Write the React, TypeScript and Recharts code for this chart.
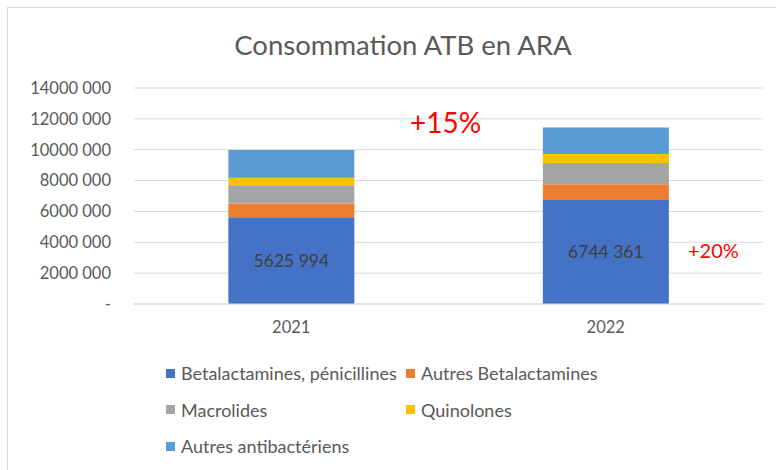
import { BarChart, Bar, XAxis, YAxis, CartesianGrid, LabelList } from 'recharts';

const years = ['2021', '2022'];
const penicillines = [5625994, 6744361];
const autresBeta = [880000, 1010000];
const macrolides = [1190000, 1390000];
const quinolones = [490000, 570000];
const autresAntibact = [1790000, 1720000];
const yTicks = [0, 2000000, 4000000, 6000000, 8000000, 10000000, 12000000, 14000000];

const SERIES = [
  { key: 'penicillines', name: 'Betalactamines, pénicillines', color: '#4472C4' },
  { key: 'autresBeta', name: 'Autres Betalactamines', color: '#ED7D31' },
  { key: 'macrolides', name: 'Macrolides', color: '#A5A5A5' },
  { key: 'quinolones', name: 'Quinolones', color: '#FFC000' },
  { key: 'autresAntibact', name: 'Autres antibactériens', color: '#5B9BD5' },
];

const data = years.map((year, i) => ({
  year,
  penicillines: penicillines[i],
  autresBeta: autresBeta[i],
  macrolides: macrolides[i],
  quinolones: quinolones[i],
  autresAntibact: autresAntibact[i],
}));

// Excel-ish "14000 000" style, zero shown as a dash
const fmt = (v: number) => {
  if (!v) return '-';
  const thousands = Math.floor(v / 1000);
  const rest = String(Math.round(v % 1000)).padStart(3, '0');
  return `${thousands} ${rest}`;
};

const TEXT = '#595959';

function LegendBox() {
  return (
    <div style={{ position: 'absolute', left: 158, top: 347, display: 'grid', gridTemplateColumns: '240px 240px' }}>
      {SERIES.map((s) => (
        <div key={s.key} style={{ display: 'flex', alignItems: 'center', height: 36.5, fontSize: 18, color: TEXT, whiteSpace: 'nowrap' }}>
          <span style={{ width: 9, height: 9, background: s.color, marginRight: 6, display: 'inline-block' }} />
          {s.name}
        </div>
      ))}
    </div>
  );
}

export default function App() {
  return (
    <>
      <style>{'body{margin:0;overflow:hidden}'}</style>
      <div
        style={{
          position: 'absolute',
          left: 7,
          top: 7,
          width: 769,
          height: 462,
          border: '1px solid #d9d9d9',
          background: '#fff',
          fontFamily: 'Lato, sans-serif',
        }}
      >
        <div style={{ position: 'absolute', left: 95, top: 23, width: 600, textAlign: 'center', fontSize: 27.5, lineHeight: '28px', color: TEXT }}>
          Consommation ATB en ARA
        </div>
        <BarChart
          width={760}
          height={455}
          data={data}
          margin={{ top: 80, right: 5, left: 0, bottom: 129 }}
          barCategoryGap="30%"
        >
          <CartesianGrid vertical={false} stroke="#d9d9d9" />
          <XAxis
            dataKey="year"
            axisLine={{ stroke: '#d9d9d9' }}
            tickLine={false}
            tickSize={0}
            tickMargin={17}
            height={30}
            tick={{ fill: TEXT, fontSize: 16.5 }}
          />
          <YAxis
            domain={[0, 14000000]}
            ticks={yTicks}
            interval={0}
            tickFormatter={fmt}
            axisLine={false}
            tickLine={false}
            tickSize={0}
            tickMargin={23}
            width={126}
            tick={{ fill: TEXT, fontSize: 16.5 }}
          />
          {SERIES.map((s, idx) => (
            <Bar key={s.key} dataKey={s.key} name={s.name} stackId="a" fill={s.color} isAnimationActive={false}>
              {idx === 0 && (
                <LabelList dataKey={s.key} position="center" formatter={(v: any) => fmt(Number(v))} fill="#404040" fontSize={17.5} />
              )}
            </Bar>
          ))}
        </BarChart>
        <LegendBox />
        <div style={{ position: 'absolute', left: 402, top: 100, fontSize: 28, lineHeight: '28px', color: '#FF0000' }}>+15%</div>
        <div style={{ position: 'absolute', left: 680, top: 232, fontSize: 20, lineHeight: '20px', color: '#FF0000' }}>+20%</div>
      </div>
    </>
  );
}
